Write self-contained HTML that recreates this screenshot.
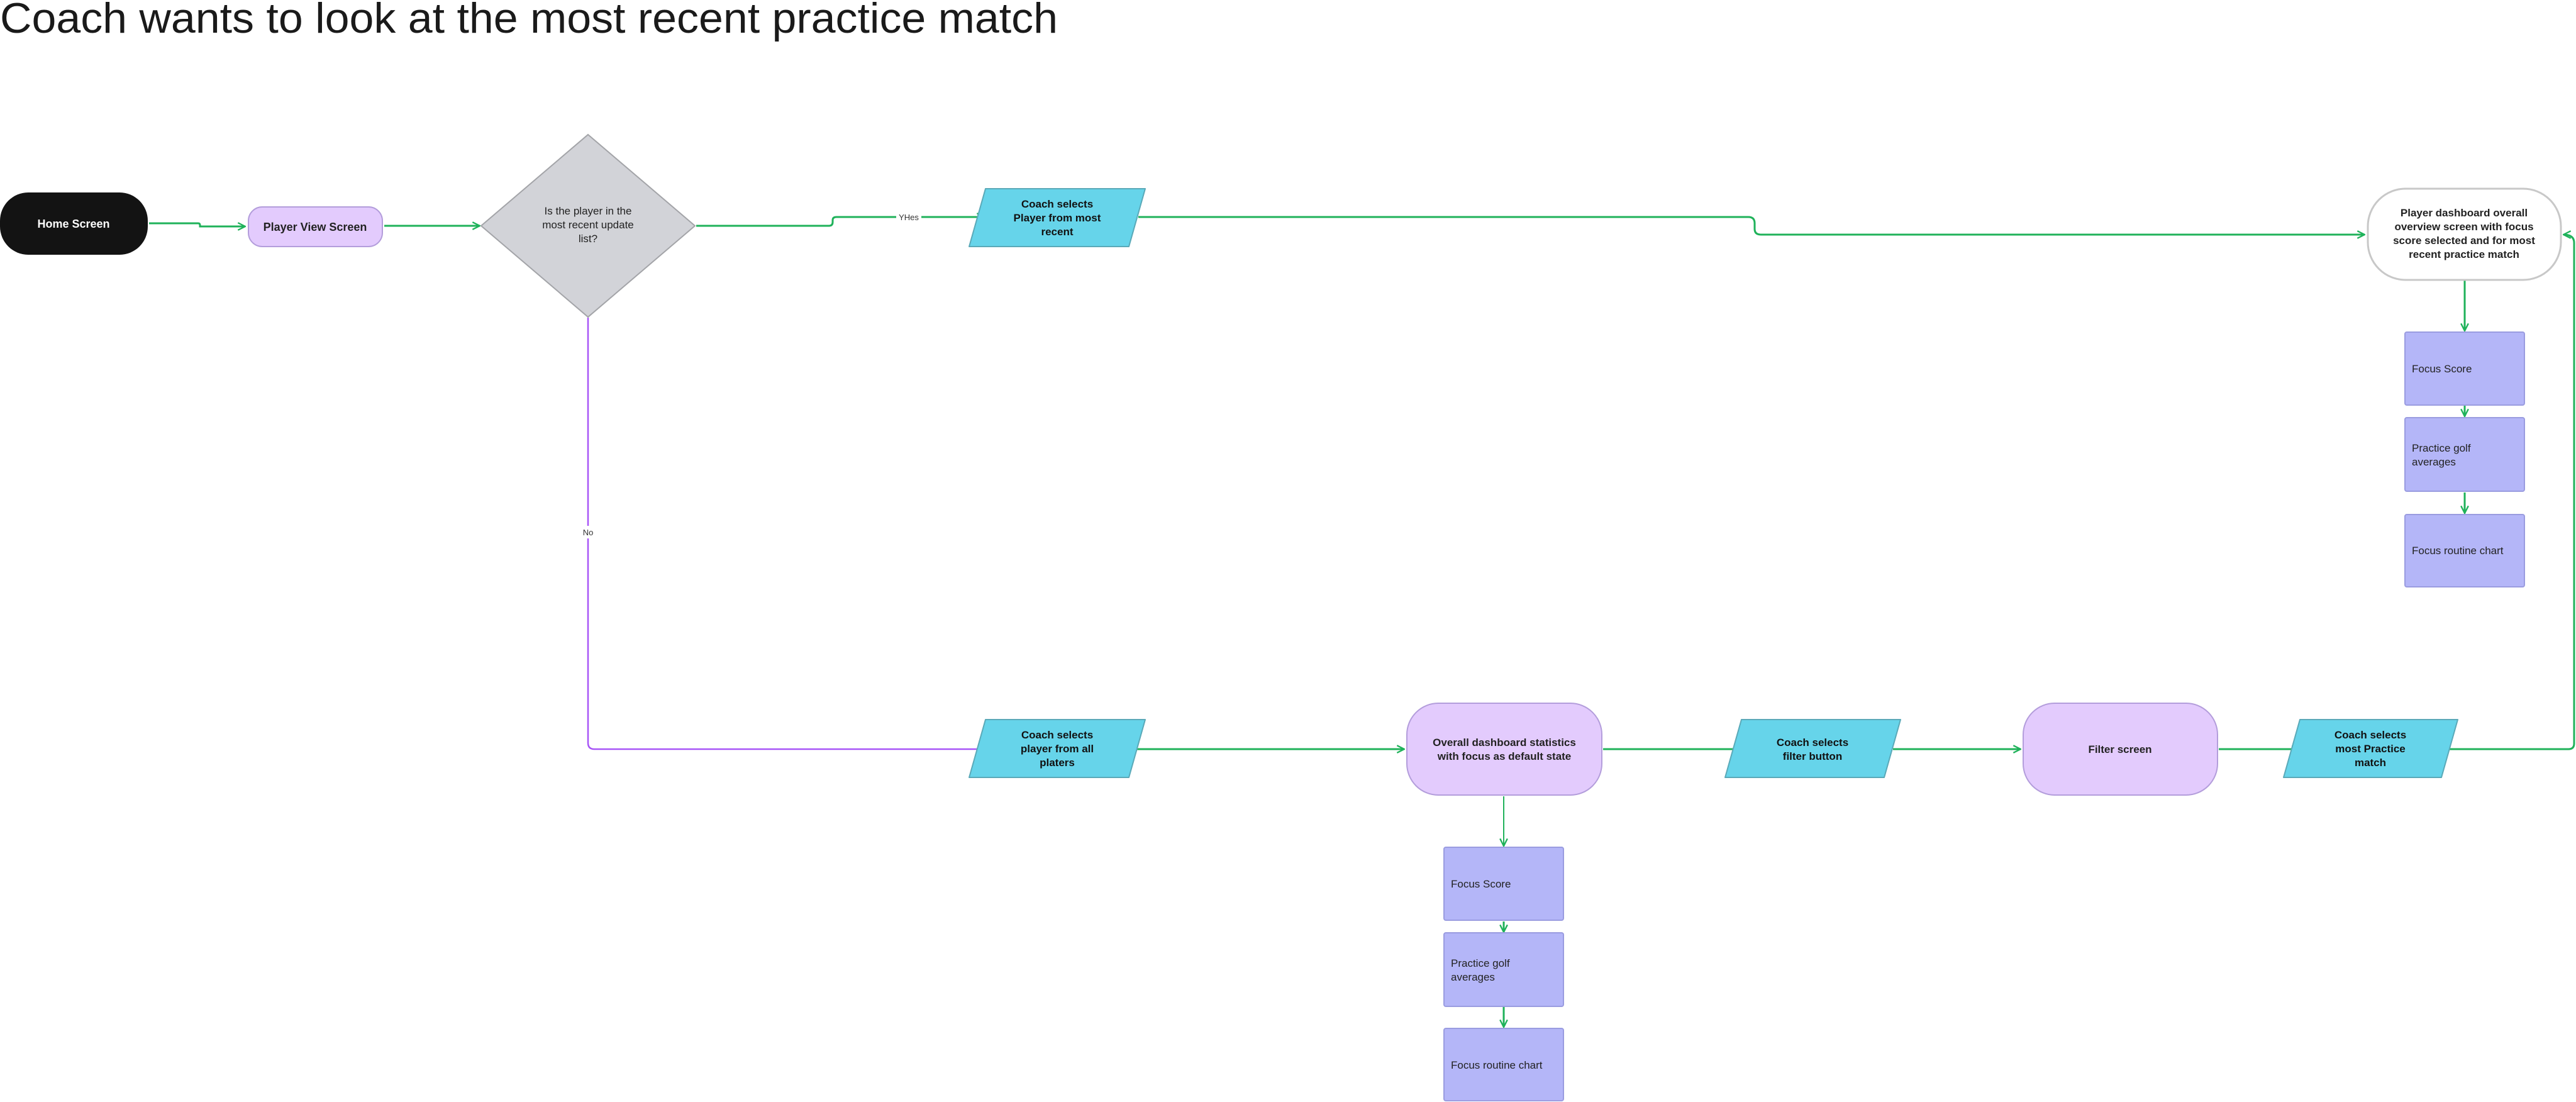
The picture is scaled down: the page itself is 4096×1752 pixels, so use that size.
<!DOCTYPE html>
<html><head><meta charset="utf-8"><style>
html,body{margin:0;padding:0;background:#fff}
svg{display:block}
text{font-family:"Liberation Sans",sans-serif}
</style></head><body>
<svg width="4096" height="1752" viewBox="0 0 4096 1752" xmlns="http://www.w3.org/2000/svg">
<defs>
<marker id="ag" viewBox="0 0 12 12" refX="11" refY="6" markerWidth="14" markerHeight="14" markerUnits="userSpaceOnUse" orient="auto"><path d="M1 1 L11 6 L1 11" fill="none" stroke="#1fb25a" stroke-width="2"/></marker>
<marker id="ap" viewBox="0 0 12 12" refX="11" refY="6" markerWidth="14" markerHeight="14" markerUnits="userSpaceOnUse" orient="auto"><path d="M1 1 L11 6 L1 11" fill="none" stroke="#a855f7" stroke-width="2"/></marker>
</defs>
<text x="0" y="52" font-size="68" fill="#1a1a1a" textLength="1682" lengthAdjust="spacingAndGlyphs">Coach wants to look at the most recent practice match</text>

<g fill="none" stroke="#1fb25a" stroke-width="3">
<path d="M237 355 H315 Q318 355 318 358 V360 H390" marker-end="url(#ag)"/>
<path d="M611 359 H763" marker-end="url(#ag)"/>
<path d="M1107 359 H1318 Q1324 359 1324 353 V350 Q1324 345 1330 345 H1565" marker-end="url(#ag)"/>
<path d="M1810 345 H2780 Q2790 345 2790 355 V364 Q2790 373 2800 373 H3760" marker-end="url(#ag)"/>
<path d="M3919 373 V526" marker-end="url(#ag)"/>
<path d="M3919 645 V662" marker-end="url(#ag)"/>
<path d="M3919 783 V816" marker-end="url(#ag)"/>
<path d="M1808 1191 H2233" marker-end="url(#ag)"/>
<path d="M2549 1191 H2770" marker-end="url(#ag)"/>
<path d="M3010 1191 H3213" marker-end="url(#ag)"/>
<path d="M3528 1191 H3656" marker-end="url(#ag)"/>
<path d="M3895 1191 H4084 Q4093 1191 4093 1182 V386 Q4093 373 4076 373" marker-end="url(#ag)"/>
<path d="M2391 1266 V1345" stroke-width="2" marker-end="url(#ag)"/>
<path d="M2391 1465 V1482" marker-end="url(#ag)"/>
<path d="M2391 1601 V1633" marker-end="url(#ag)"/>
</g>
<path d="M935 505 V1181 Q935 1191 945 1191 H1568" fill="none" stroke="#a855f7" stroke-width="2.5" marker-end="url(#ap)"/>
<rect x="1425" y="335" width="40" height="20" fill="#fff"/>
<text x="1445" y="350" font-size="13" fill="#333" text-anchor="middle">YHes</text>
<rect x="922" y="836" width="26" height="20" fill="#fff"/>
<text x="935" y="851" font-size="13" fill="#333" text-anchor="middle">No</text>

<rect x="0" y="306" width="235" height="99" rx="45" fill="#131313"/>
<text x="117" y="362" font-size="18" fill="#fff" text-anchor="middle" font-weight="bold">Home Screen</text>

<rect x="395" y="329" width="213" height="63" rx="22" fill="#e3cbfd" stroke="#b39ddb" stroke-width="2"/>
<text x="501" y="367" font-size="18" fill="#222" text-anchor="middle" font-weight="bold">Player View Screen</text>

<polygon points="935,214 1105,359 935,504 765,359" fill="#d2d3d8" stroke="#a3a4a8" stroke-width="2"/>
<text font-size="17" fill="#222" text-anchor="middle"><tspan x="935" y="341">Is the player in the</tspan><tspan x="935" y="363">most recent update</tspan><tspan x="935" y="385">list?</tspan></text>

<polygon points="1567,300 1821,300 1795,392 1541,392" fill="#66d4ea" stroke="#5aa9b8" stroke-width="2" stroke-linejoin="round"/>
<text font-size="17" fill="#111" text-anchor="middle" font-weight="bold"><tspan x="1681" y="330">Coach selects</tspan><tspan x="1681" y="352">Player from most</tspan><tspan x="1681" y="374">recent</tspan></text>

<rect x="3765" y="300" width="307" height="145" rx="60" fill="#fff" stroke="#c8c8c8" stroke-width="3"/>
<text font-size="17" fill="#222" text-anchor="middle" font-weight="bold"><tspan x="3918" y="344">Player dashboard overall</tspan><tspan x="3918" y="366">overview screen with focus</tspan><tspan x="3918" y="388">score selected and for most</tspan><tspan x="3918" y="410">recent practice match</tspan></text>

<g fill="#b4b6f8" stroke="#9a9ce0" stroke-width="2">
<rect x="3824" y="528" width="190" height="116" rx="3"/>
<rect x="3824" y="664" width="190" height="117" rx="3"/>
<rect x="3824" y="818" width="190" height="115" rx="3"/>
<rect x="2296" y="1347" width="190" height="116" rx="3"/>
<rect x="2296" y="1483" width="190" height="117" rx="3"/>
<rect x="2296" y="1635" width="190" height="115" rx="3"/>
</g>
<g font-size="17" fill="#222">
<text x="3835" y="592">Focus Score</text>
<text x="3835" y="718">Practice golf</text><text x="3835" y="740">averages</text>
<text x="3835" y="881">Focus routine chart</text>
<text x="2307" y="1411">Focus Score</text>
<text x="2307" y="1537">Practice golf</text><text x="2307" y="1559">averages</text>
<text x="2307" y="1699">Focus routine chart</text>
</g>

<polygon points="1567,1144 1821,1144 1795,1236 1541,1236" fill="#66d4ea" stroke="#5aa9b8" stroke-width="2" stroke-linejoin="round"/>
<text font-size="17" fill="#111" text-anchor="middle" font-weight="bold"><tspan x="1681" y="1174">Coach selects</tspan><tspan x="1681" y="1196">player from all</tspan><tspan x="1681" y="1218">platers</tspan></text>

<rect x="2237" y="1118" width="310" height="146" rx="50" fill="#e3cbfd" stroke="#b39ddb" stroke-width="2"/>
<text font-size="17" fill="#222" text-anchor="middle" font-weight="bold"><tspan x="2392" y="1186">Overall dashboard statistics</tspan><tspan x="2392" y="1208">with focus as default state</tspan></text>

<polygon points="2769,1144 3022,1144 2996,1236 2743,1236" fill="#66d4ea" stroke="#5aa9b8" stroke-width="2" stroke-linejoin="round"/>
<text font-size="17" fill="#111" text-anchor="middle" font-weight="bold"><tspan x="2882" y="1186">Coach selects</tspan><tspan x="2882" y="1208">filter button</tspan></text>

<rect x="3217" y="1118" width="309" height="146" rx="50" fill="#e3cbfd" stroke="#b39ddb" stroke-width="2"/>
<text x="3371" y="1197" font-size="17" fill="#222" text-anchor="middle" font-weight="bold">Filter screen</text>

<polygon points="3657,1144 3908,1144 3882,1236 3631,1236" fill="#66d4ea" stroke="#5aa9b8" stroke-width="2" stroke-linejoin="round"/>
<text font-size="17" fill="#111" text-anchor="middle" font-weight="bold"><tspan x="3769" y="1174">Coach selects</tspan><tspan x="3769" y="1196">most Practice</tspan><tspan x="3769" y="1218">match</tspan></text>
</svg>
</body></html>
